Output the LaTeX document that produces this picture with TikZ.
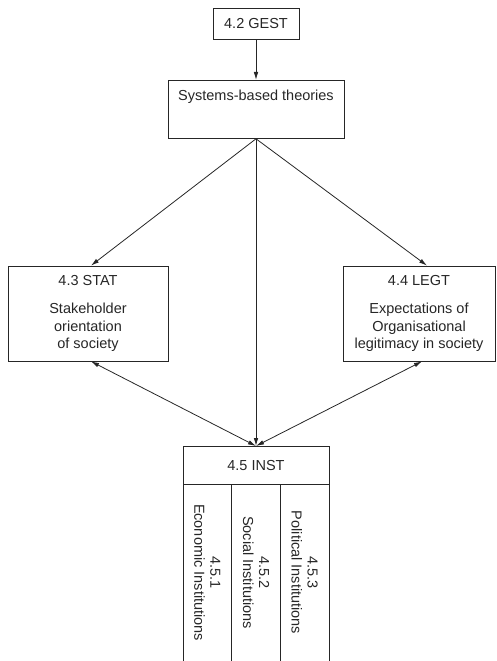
\documentclass[tikz,border=0pt]{standalone}
\usepackage{fontspec}
\setmainfont{Liberation Sans}
\usetikzlibrary{arrows.meta,positioning}

\begin{document}
\begin{tikzpicture}[x=1pt,y=-1pt,font=\fontsize{14.5}{17.5}\selectfont,
  >={Latex[length=8pt,width=4.5pt]}]
\tikzstyle{block} = [rectangle, draw=black!85, text=black!85, line width=0.8pt,
align=center, inner sep=4pt]
\tikzstyle{line} = [draw=black!85, line width=0.8pt];
\tikzstyle{col} = [rotate=-90, text=black!85, align=center,
font=\fontsize{14.5}{16}\selectfont];
\useasboundingbox (0,0) rectangle (497,661);

% top
\node [block, minimum width=86pt, minimum height=31pt] (gest) at (256,23.5) {4.2 GEST};
\node [block, minimum width=176pt, text height=14pt, text depth=32pt, inner sep=6pt,
anchor=north] (sys) at (256,80) {Systems-based theories};
% middle
\node [block, minimum width=160pt, minimum height=95pt] (stat) at (88,313.5)
{4.3 STAT\\[11pt]Stakeholder\\orientation\\of society};
\node [block, minimum width=152pt, minimum height=95pt] (legt) at (419,313.5)
{4.4 LEGT\\[11pt]Expectations of\\Organisational\\legitimacy in society};
% bottom
\node [block, minimum width=146pt, minimum height=38pt, anchor=north] (inst) at (256,446) {4.5 INST};
\foreach \x in {183,231.67,280.33,329}
  \draw [line] (\x,484) -- (\x,661);
\foreach \n/\name in {1/Economic Institutions,2/Social Institutions,3/Political Institutions}
  \node [col] (inst\n) at (183+48.67*\n-24.33,572.5) {4.5.\n\\\name};

\tikzstyle{every path}=[line]
\path [->] (gest) -- (sys);
\path [->] (sys.south) -- ([xshift=3pt]stat.north);
\path [->] (sys.south) -- ([xshift=8pt]legt.north);
\path [->] (sys.south) -- (inst.north);
\path [<->] ([xshift=3pt]stat.south) -- (inst.north);
\path [<->] ([xshift=3pt]legt.south) -- (inst.north);

\end{tikzpicture}
\end{document}
